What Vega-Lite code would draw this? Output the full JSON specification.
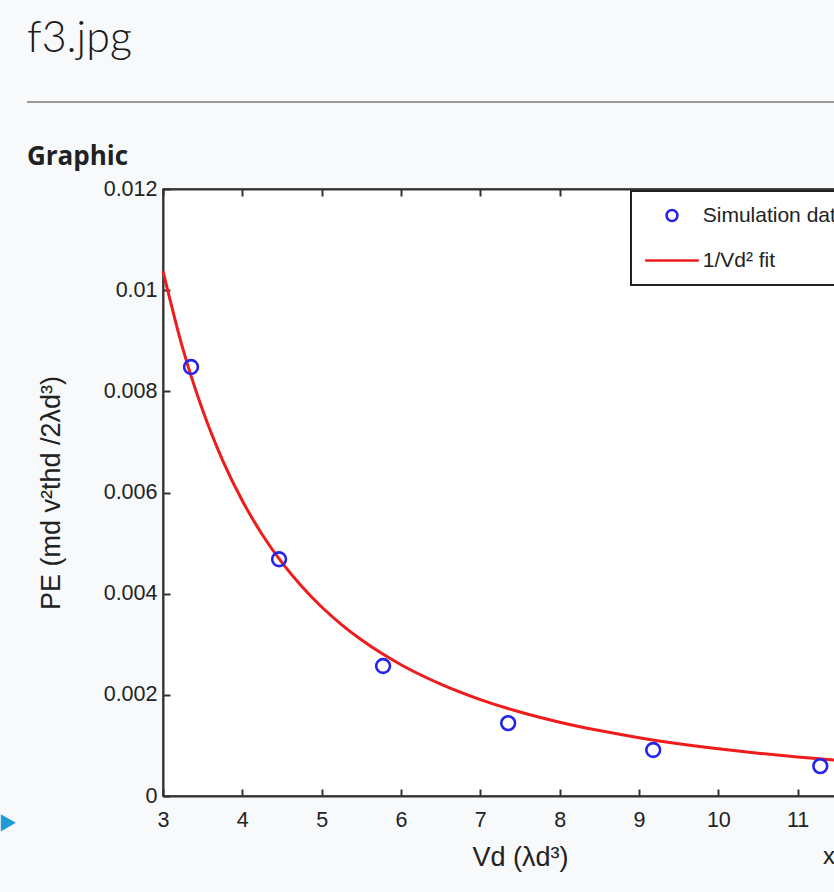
{
  "$schema": "https://vega.github.io/schema/vega-lite/v6.json",
  "autosize": "none",
  "width": 714,
  "height": 607,
  "padding": {"left": 163, "top": 189, "right": -43, "bottom": 96},
  "background": "#f8f9fa",
  "title": {
    "text": "f3.jpg",
    "anchor": "start",
    "frame": "group",
    "dx": -136,
    "offset": 40,
    "font": "Lato",
    "fontWeight": 300,
    "fontSize": 43,
    "color": "#1a1a1a"
  },
  "config": {
    "view": {"fill": "#ffffff", "stroke": "#333333", "strokeWidth": 1.5},
    "axis": {
      "grid": false,
      "labelFont": "Liberation Sans",
      "labelFontSize": 21.5,
      "labelColor": "#222222",
      "titleFont": "Liberation Sans",
      "titleFontSize": 27,
      "titleFontWeight": "normal",
      "titleColor": "#222222",
      "domainColor": "#333333",
      "domainWidth": 2,
      "tickColor": "#333333",
      "tickWidth": 2,
      "tickSize": -7
    },
    "legend": {
      "labelFont": "Liberation Sans",
      "labelFontSize": 21,
      "labelColor": "#222222",
      "labelOffset": 20.25,
      "symbolOffset": 16.5,
      "padding": 14,
      "rowPadding": 22,
      "strokeColor": "#222222",
      "strokeWidth": 2,
      "fillColor": "#ffffff",
      "symbolSize": 120,
      "symbolStrokeWidth": 2.6
    }
  },
  "datasets": {
    "sim": [
      {"V": 3.353, "P": 0.00848, "series": "Simulation data"},
      {"V": 4.463, "P": 0.00468, "series": "Simulation data"},
      {"V": 5.774, "P": 0.00257, "series": "Simulation data"},
      {"V": 7.351, "P": 0.00144, "series": "Simulation data"},
      {"V": 9.179, "P": 0.00091, "series": "Simulation data"},
      {"V": 11.285, "P": 0.00059, "series": "Simulation data"}
    ],
    "fit": [
      {"V": 3, "P": 0.010378, "series": "1/Vd² fit"},
      {"V": 3.25, "P": 0.008843, "series": "1/Vd² fit"},
      {"V": 3.5, "P": 0.007624, "series": "1/Vd² fit"},
      {"V": 3.75, "P": 0.006642, "series": "1/Vd² fit"},
      {"V": 4, "P": 0.005838, "series": "1/Vd² fit"},
      {"V": 4.25, "P": 0.005171, "series": "1/Vd² fit"},
      {"V": 4.5, "P": 0.004612, "series": "1/Vd² fit"},
      {"V": 4.75, "P": 0.00414, "series": "1/Vd² fit"},
      {"V": 5, "P": 0.003736, "series": "1/Vd² fit"},
      {"V": 5.25, "P": 0.003389, "series": "1/Vd² fit"},
      {"V": 5.5, "P": 0.003088, "series": "1/Vd² fit"},
      {"V": 5.75, "P": 0.002825, "series": "1/Vd² fit"},
      {"V": 6, "P": 0.002594, "series": "1/Vd² fit"},
      {"V": 6.5, "P": 0.002211, "series": "1/Vd² fit"},
      {"V": 7, "P": 0.001906, "series": "1/Vd² fit"},
      {"V": 7.5, "P": 0.00166, "series": "1/Vd² fit"},
      {"V": 8, "P": 0.001459, "series": "1/Vd² fit"},
      {"V": 8.5, "P": 0.001293, "series": "1/Vd² fit"},
      {"V": 9, "P": 0.001153, "series": "1/Vd² fit"},
      {"V": 9.5, "P": 0.001035, "series": "1/Vd² fit"},
      {"V": 10, "P": 0.000934, "series": "1/Vd² fit"},
      {"V": 10.5, "P": 0.000847, "series": "1/Vd² fit"},
      {"V": 11, "P": 0.000772, "series": "1/Vd² fit"},
      {"V": 11.5, "P": 0.000706, "series": "1/Vd² fit"},
      {"V": 12, "P": 0.000649, "series": "1/Vd² fit"}
    ]
  },
  "resolve": {"scale": {"x": "independent", "y": "independent"}},
  "layer": [
    {
      "layer": [
        {
          "data": {"values": [{}]},
          "mark": {"type": "rule", "color": "#9a9a9a", "strokeWidth": 2},
          "encoding": {
            "x": {"datum": 1.285, "type": "quantitative", "scale": {"domain": [3, 12], "nice": false, "zero": false}, "axis": null},
            "x2": {"datum": 12},
            "y": {"datum": 0.01372, "type": "quantitative", "scale": {"domain": [0, 0.012], "nice": false, "zero": false}, "axis": null}
          }
        },
        {
          "data": {"values": [{}]},
          "mark": {"type": "text", "text": "Graphic", "align": "left", "baseline": "alphabetic", "font": "Open Sans", "fontWeight": "bold", "fontSize": 26, "color": "#202122"},
          "encoding": {
            "x": {"datum": 1.285, "type": "quantitative", "scale": {"domain": [3, 12], "nice": false, "zero": false}, "axis": null},
            "y": {"datum": 0.012474, "type": "quantitative", "scale": {"domain": [0, 0.012], "nice": false, "zero": false}, "axis": null}
          }
        },
        {
          "data": {"values": [{}]},
          "mark": {"type": "text", "text": "x", "align": "left", "baseline": "middle", "font": "Liberation Sans", "fontSize": 24, "color": "#222222"},
          "encoding": {
            "x": {"datum": 11.32, "type": "quantitative", "scale": {"domain": [3, 12], "nice": false, "zero": false}, "axis": null},
            "y": {"datum": -0.00121, "type": "quantitative", "scale": {"domain": [0, 0.012], "nice": false, "zero": false}, "axis": null}
          }
        },
        {
          "data": {"values": [{}]},
          "mark": {"type": "point", "shape": "triangle-right", "filled": true, "color": "#1e9bd7", "size": 300, "opacity": 1},
          "encoding": {
            "x": {"datum": 1.05, "type": "quantitative", "scale": {"domain": [3, 12], "nice": false, "zero": false}, "axis": null},
            "y": {"datum": -0.00053, "type": "quantitative", "scale": {"domain": [0, 0.012], "nice": false, "zero": false}, "axis": null}
          }
        }
      ]
    },
    {
      "layer": [
        {
          "data": {"name": "fit"},
          "mark": {"type": "line", "interpolate": "monotone", "strokeWidth": 3},
          "encoding": {
            "x": {
              "field": "V", "type": "quantitative",
              "scale": {"domain": [3, 12], "nice": false, "zero": false},
              "axis": {"orient": "bottom", "values": [3, 4, 5, 6, 7, 8, 9, 10, 11, 12], "labelPadding": 20, "titlePadding": 14, "title": "Vd (λd³)", "labelFlush": false}
            },
            "y": {
              "field": "P", "type": "quantitative",
              "scale": {"domain": [0, 0.012], "nice": false, "zero": false},
              "axis": {"orient": "left", "values": [0, 0.002, 0.004, 0.006, 0.008, 0.01, 0.012], "format": "~g", "labelPadding": 13, "titlePadding": 38, "title": "PE (md v²thd /2λd³)", "labelFlush": false}
            },
            "color": {
              "field": "series", "type": "nominal",
              "scale": {"domain": ["Simulation data", "1/Vd² fit"], "range": ["#2424ee", "#ee1c1c"]}
            }
          }
        },
        {
          "data": {"name": "sim"},
          "mark": {"type": "point", "filled": false, "size": 190, "strokeWidth": 2.6, "opacity": 1},
          "encoding": {
            "x": {
              "field": "V", "type": "quantitative",
              "axis": {"orient": "top", "values": [3, 4, 5, 6, 7, 8, 9, 10, 11, 12], "labels": false, "title": null}
            },
            "y": {"field": "P", "type": "quantitative"},
            "color": {
              "field": "series", "type": "nominal",
              "legend": {"orient": "none", "legendX": 468, "legendY": 2, "title": null}
            },
            "shape": {
              "field": "series", "type": "nominal",
              "scale": {"domain": ["Simulation data", "1/Vd² fit"], "range": ["circle", "M-4.9,0L4.9,0"]},
              "legend": {"orient": "none", "legendX": 468, "legendY": 2, "title": null}
            }
          }
        }
      ]
    }
  ]
}
